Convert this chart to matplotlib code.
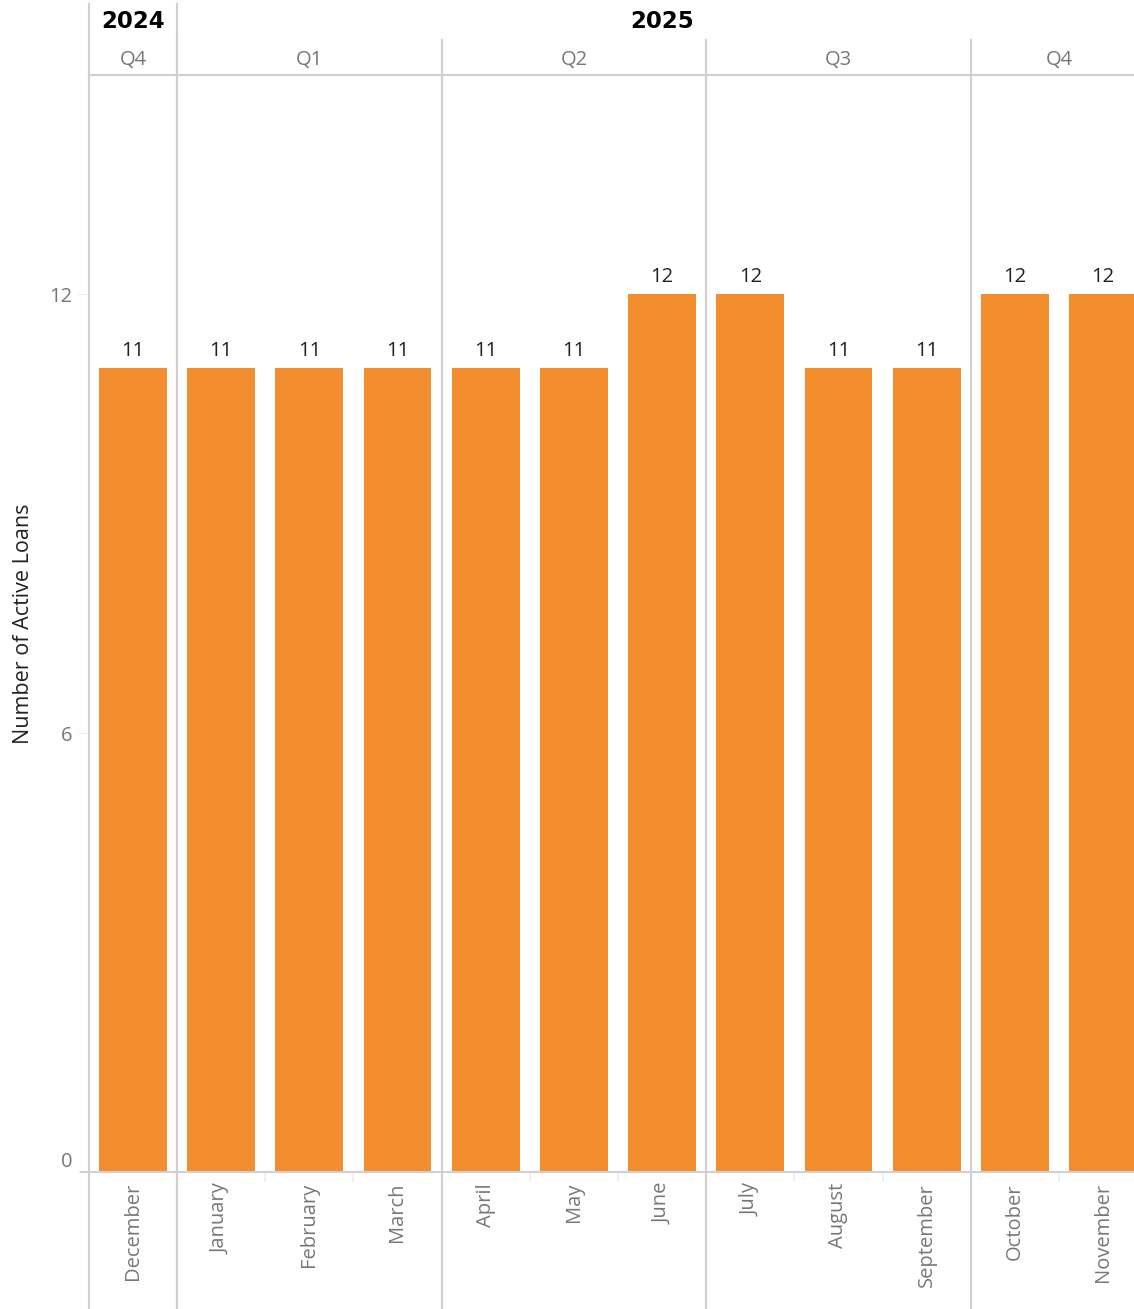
import matplotlib
matplotlib.use("Agg")
import matplotlib.pyplot as plt
from matplotlib.transforms import blended_transform_factory

# data
months = ["December", "January", "February", "March", "April", "May",
          "June", "July", "August", "September", "October", "November"]
loans = [11, 11, 11, 11, 11, 11, 12, 12, 11, 11, 12, 12]
quarters = ["Q4", "Q1", "Q2", "Q3", "Q4"]
quarter_sizes = [1, 3, 3, 3, 2]
years = ["2024", "2025"]
year_sizes = [1, 11]
y_ticks = [0, 6, 12]

W, H = 1134, 1309
orange = "#F28E2E"
grid = "#D0D0D0"
gray = "#777777"
plt.rcParams["font.family"] = ["Open Sans", "DejaVu Sans"]

fig = plt.figure(figsize=(W / 100, H / 100), dpi=100)
left, right, top, bottom = 88.8, 1134, 75, 1172
ax = fig.add_axes([left / W, (H - bottom) / H, (right - left) / W, (bottom - top) / H])

col_w = 88.2
x = list(range(len(months)))
ax.bar(x, loans, width=0.77, color=orange, zorder=2)
for xi, v in zip(x, loans):
    ax.annotate(str(v), (xi, v), xytext=(0, 5), textcoords="offset points",
                ha="center", va="bottom", fontsize=14.5, color="#222222")

ax.set_xlim(-0.5, -0.5 + (right - left) / col_w)
ax.set_ylim(0, 15)
ax.set_yticks(y_ticks)
ax.set_yticklabels([str(t) for t in y_ticks], fontsize=14.5, color=gray)
ax.get_yticklabels()[0].set_va("bottom")
ax.tick_params(axis="y", length=8, color="#EEEEEE", pad=4)
ax.set_xticks([])
for s in ["top", "right", "left"]:
    ax.spines[s].set_visible(False)
ax.spines["bottom"].set_color(grid)
ax.spines["bottom"].set_linewidth(1.5)
ax.spines["bottom"].set_bounds(-0.5 - 8 / col_w, 20)
ax.set_ylabel("Number of Active Loans", fontsize=15.5, color="#222222")
ax.yaxis.set_label_coords(-(left - 34) / (right - left), 0.5)

trans = blended_transform_factory(ax.transData, ax.transAxes)
ah = bottom - top
yf = lambda py: (bottom - py) / ah  # pixel row -> axes fraction

# header horizontal line
ax.plot([-0.5, 20], [1, 1], transform=trans, color=grid, lw=1.5, clip_on=False)

# year separators and labels
pos = -0.5
for yr, n in zip(years, year_sizes):
    ax.plot([pos, pos], [yf(4), yf(H)], transform=trans, color=grid, lw=1.5, clip_on=False, zorder=3)
    ax.text(pos + n / 2, yf(22), yr, transform=trans, ha="center", va="center",
            fontsize=16.5, fontweight="heavy", family="DejaVu Sans", color="black")
    pos += n

# quarter separators and labels
pos = -0.5
for q, n in zip(quarters, quarter_sizes):
    if pos > 0:
        ax.plot([pos, pos], [yf(40), yf(H)], transform=trans, color=grid, lw=1.5, clip_on=False, zorder=3)
    ax.text(pos + n / 2, yf(60), q, transform=trans, ha="center", va="center",
            fontsize=14.5, color=gray)
    pos += n

# small ticks between months at the bottom
for b in range(1, len(months)):
    ax.plot([b - 0.5, b - 0.5], [yf(1174), yf(1181)], transform=trans, color="#EEEEEE",
            lw=1.2, clip_on=False)

# month labels
for xi, m in zip(x, months):
    ax.text(xi, yf(1183), m, transform=trans, rotation=90, ha="center", va="top",
            fontsize=14.5, color=gray)

fig.savefig("out.png", dpi=100)
